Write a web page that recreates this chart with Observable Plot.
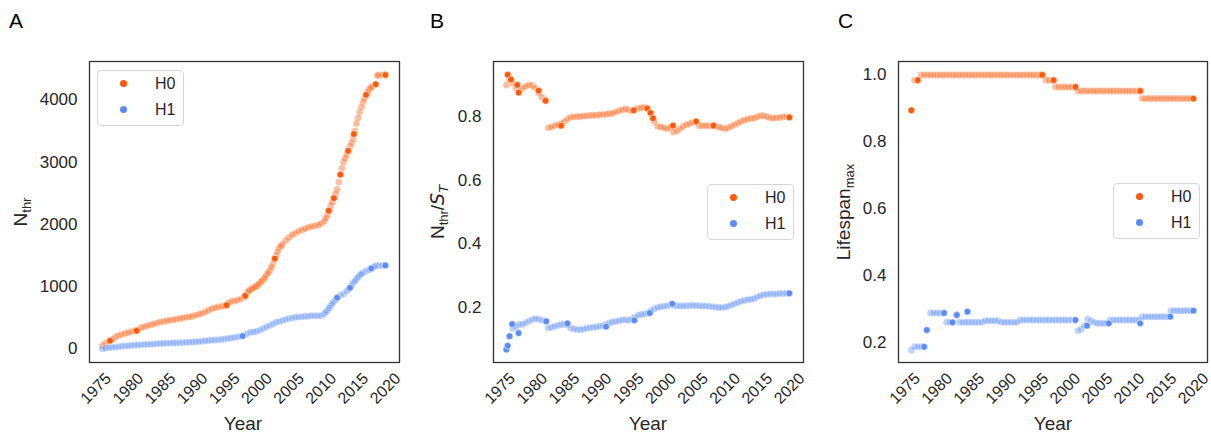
<!DOCTYPE html>
<html><head><meta charset="utf-8">
<script src="https://cdn.jsdelivr.net/npm/d3@7"></script>
<script src="https://cdn.jsdelivr.net/npm/@observablehq/plot@0.6"></script>
<style>
body{margin:0;background:#fff;font-family:"Liberation Sans",Arial,sans-serif;color:#262626}
#root{position:relative;width:1211px;height:434px;overflow:hidden;background:#fff}
.panel{position:absolute;top:0}
.letter{position:absolute;font-size:21px;line-height:21px;top:10px;color:#000}
.ylab{position:absolute;font-size:19px;line-height:19px;white-space:nowrap;transform:translate(-50%,-50%) rotate(-90deg)}
.ylab sub{font-size:13px;vertical-align:-4px;line-height:0}
.xlab{position:absolute;font-size:19px;line-height:19px;top:414px;transform:translateX(-50%)}
.legend{position:absolute;box-sizing:border-box;width:87px;height:56px;border:1px solid #d6d6d6;border-radius:4px;background:rgba(255,255,255,0.85)}
.legend .mk{position:absolute;width:7px;height:7px;border-radius:50%;left:22px}
.legend .lb{position:absolute;left:57px;font-size:16px;line-height:16px}
</style></head>
<body><div id="root"></div>
<script>
// ---- data ----
const years = [1976,1976.5,1977,1977.5,1978,1978.5,1979,1979.5,1980,1980.5,
1981,1981.5,1982,1982.5,1983,1983.5,1984,1984.5,1985,1985.5,
1986,1986.5,1987,1987.5,1988,1988.5,1989,1989.5,1990,1990.5,
1991,1991.5,1992,1992.5,1993,1993.5,1994,1994.5,1995,1995.5,
1996,1996.5,1997,1997.5,1998,1998.5,1999,1999.5,2000,2000.5,
2001,2001.5,2002,2002.5,2003,2003.5,2004,2004.5,2005,2005.5,
2006,2006.5,2007,2007.5,2008,2008.5,2009,2009.5,2010,2010.5,
2011,2011.5,2012,2012.5,2013,2013.5,2014,2014.5,2015,2015.5,
2016,2016.5,2017,2017.5,2018,2018.5,2019,2019.5,2020];
const seriesNames = ["H0","H1"];
const xTicks = [1975,1980,1985,1990,1995,2000,2005,2010,2015,2020];

// Panel A: N_thr
const nThrH0 = [50,90,120,150,190,215,230,245,260,275,
285,300,340,355,370,385,400,415,430,440,
450,460,465,475,485,495,505,515,525,540,
555,570,590,620,645,660,670,680,690,730,
760,770,780,800,830,900,950,980,1010,1060,
1110,1180,1260,1360,1500,1620,1680,1740,1790,1830,
1860,1890,1910,1930,1950,1965,1975,1990,2010,2050,
2150,2300,2420,2560,2800,3000,3120,3250,3380,3620,
3800,3960,4080,4170,4220,4250,4400,4400,4400];
const nThrH1 = [0,10,20,25,30,35,40,45,50,55,
60,62,65,68,72,75,78,80,85,88,
90,92,94,96,98,100,102,105,108,112,
118,122,128,132,136,140,145,150,158,165,
172,180,190,200,215,245,265,270,280,300,
325,350,375,400,425,440,455,470,485,495,
505,510,515,520,525,530,530,530,530,560,
620,690,760,820,860,880,930,980,1060,1120,
1180,1220,1250,1270,1300,1340,1340,1340,1340];
// extra in-between observations where the curves rise fast
const nThrH0Extra = [[1998.25,860],[1998.75,930],[1999.25,965],[1999.75,995],[2000.25,1035],[2000.75,1085],[2001.25,1140],[2001.75,1220],[2002.25,1310],[2002.75,1430],[2003.25,1560],[2003.75,1650],[2010.75,2100],[2011.25,2220],[2011.75,2360],[2012.25,2490],[2012.75,2680],[2013.25,2900],[2013.75,3060],[2014.25,3180],[2014.75,3310],[2015.25,3500],[2015.75,3710],[2016.25,3880],[2016.75,4020],[2017.25,4130],[2017.75,4200],[2018.75,4390]];
const nThrH1Extra = [[2010.75,590],[2011.25,655],[2011.75,725],[2012.25,790],[2014.25,955],[2014.75,1020],[2015.25,1090],[2015.75,1150],[2016.25,1200],[2018.25,1320]];
const nThrH0Solid = [[1977.2,130],[1981.3,290],[1995.3,700],[1998.2,850],[2002.8,1450],[2011.2,2220],[2012.0,2420],[2013.0,2800],[2014.2,3180],[2015.1,3450],[2017.0,4080],[2018.5,4250],[2020,4400]];
const nThrH1Solid = [[1997.8,205],[2012.5,820],[2014.5,980],[2017.8,1290],[2020,1340]];
const yTicksA = [0,1000,2000,3000,4000];

// Panel B: N_thr / S_T
const ratioH0 = [0.90,0.915,0.905,0.89,0.88,0.89,0.895,0.90,0.898,0.89,
0.875,0.862,0.853,0.765,0.768,0.772,0.775,0.778,0.785,0.793,
0.798,0.80,0.80,0.801,0.802,0.803,0.804,0.805,0.805,0.806,
0.807,0.808,0.81,0.81,0.815,0.819,0.822,0.824,0.822,0.818,
0.823,0.827,0.828,0.83,0.825,0.81,0.785,0.77,0.768,0.765,
0.762,0.768,0.752,0.755,0.762,0.77,0.775,0.778,0.782,0.785,
0.772,0.772,0.772,0.772,0.772,0.772,0.767,0.765,0.762,0.765,
0.77,0.775,0.78,0.785,0.79,0.792,0.795,0.795,0.80,0.803,
0.803,0.80,0.797,0.795,0.797,0.797,0.80,0.80,0.798];
const ratioH1 = [0.072,0.11,0.135,0.14,0.148,0.147,0.152,0.158,0.162,0.165,
0.164,0.16,0.158,0.136,0.138,0.141,0.144,0.147,0.148,0.145,
0.136,0.133,0.131,0.13,0.133,0.135,0.137,0.138,0.139,0.141,
0.143,0.147,0.152,0.155,0.157,0.159,0.161,0.162,0.16,0.163,
0.17,0.176,0.178,0.18,0.183,0.19,0.196,0.2,0.203,0.204,
0.206,0.208,0.207,0.206,0.205,0.205,0.206,0.206,0.207,0.206,
0.206,0.205,0.205,0.204,0.203,0.202,0.2,0.2,0.201,0.204,
0.208,0.212,0.216,0.22,0.222,0.225,0.226,0.228,0.233,0.237,
0.24,0.242,0.243,0.243,0.243,0.244,0.244,0.245,0.245];
const ratioH0Solid = [[1976.2,0.932],[1976.7,0.917],[1977.7,0.90],[1977.9,0.876],[1981.0,0.882],[1982.1,0.85],[1984.5,0.772],[1995.8,0.82],[1997.9,0.826],[1998.4,0.812],[1998.8,0.795],[2001.9,0.772],[2005.5,0.785],[2008.2,0.772],[2020,0.798]];
const ratioH1Solid = [[1976.0,0.068],[1976.2,0.08],[1976.5,0.11],[1976.9,0.148],[1977.9,0.12],[1982.2,0.157],[1985.5,0.15],[1991.5,0.14],[1995.9,0.16],[1998.3,0.183],[2001.8,0.212],[2020,0.245]];
const yTicksB = [0.2,0.4,0.6,0.8];

// Panel C: Lifespan_max
const lifeH0 = [0.895,0.984,0.984,1,1,1,1,1,1,1,
1,1,1,1,1,1,1,1,1,1,
1,1,1,1,1,1,1,1,1,1,
1,1,1,1,1,1,1,1,1,1,
1,1,0.984,0.984,0.984,0.964,0.964,0.964,0.964,0.964,
0.964,0.964,0.952,0.952,0.952,0.952,0.952,0.952,0.952,0.952,
0.952,0.952,0.952,0.952,0.952,0.952,0.952,0.952,0.952,0.952,
0.952,0.952,0.929,0.929,0.929,0.929,0.929,0.929,0.929,0.929,
0.929,0.929,0.929,0.929,0.929,0.929,0.929,0.929,0.929];
const lifeH1 = [0.177,0.187,0.187,0.187,0.187,0.237,0.288,0.288,0.288,0.288,
0.288,0.26,0.26,0.26,0.282,0.26,0.26,0.26,0.26,0.26,
0.26,0.26,0.26,0.265,0.265,0.265,0.265,0.265,0.26,0.26,
0.26,0.26,0.26,0.26,0.267,0.267,0.267,0.267,0.267,0.267,
0.267,0.267,0.267,0.267,0.267,0.267,0.267,0.267,0.267,0.267,
0.267,0.267,0.235,0.24,0.25,0.27,0.265,0.26,0.257,0.257,
0.257,0.257,0.267,0.267,0.267,0.267,0.267,0.267,0.267,0.267,
0.267,0.267,0.277,0.277,0.277,0.277,0.277,0.277,0.277,0.277,
0.277,0.295,0.295,0.295,0.295,0.295,0.295,0.295,0.295];
const lifeH0Solid = [[1976.0,0.894],[1977.0,0.984],[1996.4,1.0],[1998.2,0.984],[2001.6,0.964],[2011.7,0.952],[2020,0.929]];
const lifeH1Solid = [[1978.0,0.187],[1978.4,0.237],[1981.1,0.288],[1982.4,0.26],[1983.1,0.282],[1984.75,0.292],[2001.6,0.267],[2003.4,0.25],[2006.8,0.257],[2011.7,0.257],[2016.4,0.277],[2020,0.295]];
const yTicksC = [0.2,0.4,0.6,0.8,1.0];

const colors = {H0:"#ff5a0a", H1:"#5b8cf6"};

// ---- drawing ----
const root = document.getElementById("root");
const FONT = '"Liberation Sans", Arial, sans-serif';

function toRows(vals, name){ return vals.map((v,i)=>({year:years[i], value:v, series:name})); }
function pairRows(pairs, name){ return pairs.map(([y,v])=>({year:y, value:v, series:name})); }

function makePanel(cfg){
  const light = [...toRows(cfg.h0,"H0"), ...pairRows(cfg.e0 || [],"H0"), ...toRows(cfg.h1,"H1"), ...pairRows(cfg.e1 || [],"H1")];
  const solid = [...pairRows(cfg.s0,"H0"), ...pairRows(cfg.s1,"H1")];
  const svg = Plot.plot({
    width: cfg.width, height: 434,
    marginLeft: 89, marginRight: cfg.marginRight, marginTop: 61, marginBottom: 72,
    style: {fontFamily: FONT, fontSize: "16.5px", color: "#262626", background: "transparent", overflow: "visible"},
    x: {domain: [1974.0, 2022.2]},
    y: {domain: cfg.ydomain},
    color: {domain: seriesNames, range: [colors.H0, colors.H1]},
    marks: [
      Plot.axisX({ticks: xTicks, tickSize: 0, tickRotate: -45, tickPadding: 26, textAnchor: "middle", lineAnchor: "middle", tickFormat: d => String(d), label: null, fontSize: 16}),
      Plot.axisY({ticks: cfg.yticks, tickSize: 0, tickPadding: 12, tickFormat: cfg.yfmt, label: null, fontSize: 17}),
      Plot.dot(light, {x: "year", y: "value", fill: "series", r: 3.5, stroke: "white", strokeWidth: 0.6, fillOpacity: 0.4, strokeOpacity: 0.5}),
      Plot.dot(solid, {x: "year", y: "value", fill: "series", r: 3.4, stroke: "white", strokeWidth: 0.6}),
      Plot.frame({stroke: "#333", strokeWidth: 1.3})
    ]
  });
  svg.classList.add("panel");
  svg.style.left = cfg.left + "px";
  root.appendChild(svg);
}

makePanel({left: 0, width: 405, marginRight: 6, ydomain: [-220, 4616], yticks: yTicksA, yfmt: d3.format("d"), h0: nThrH0, h1: nThrH1, e0: nThrH0Extra, e1: nThrH1Extra, s0: nThrH0Solid, s1: nThrH1Solid});
makePanel({left: 404, width: 405, marginRight: 6, ydomain: [0.0274, 0.9736], yticks: yTicksB, yfmt: d3.format(".1f"), h0: ratioH0, h1: ratioH1, s0: ratioH0Solid, s1: ratioH1Solid});
makePanel({left: 809, width: 402, marginRight: 4, ydomain: [0.14, 1.04], yticks: yTicksC, yfmt: d3.format(".1f"), h0: lifeH0, h1: lifeH1, s0: lifeH0Solid, s1: lifeH1Solid});

// labels
function addDiv(cls, html, style){ const d=document.createElement("div"); d.className=cls; d.innerHTML=html; Object.assign(d.style, style); root.appendChild(d); return d; }
addDiv("letter","A",{left:"9px"});
addDiv("letter","B",{left:"430px"});
addDiv("letter","C",{left:"838px"});
addDiv("ylab","N<sub>thr</sub>",{left:"20px",top:"212px"});
addDiv("ylab","N<sub>thr</sub>/<i style=\"font-family:'DejaVu Sans'\">S<sub>T</sub></i>",{left:"437px",top:"212px"});
addDiv("ylab","Lifespan<sub>max</sub>",{left:"843px",top:"212px"});
addDiv("xlab","Year",{left:"243px"});
addDiv("xlab","Year",{left:"648px"});
addDiv("xlab","Year",{left:"1053px"});

function addLegend(left, top){
  const lg = addDiv("legend","",{left:left+"px", top:top+"px"});
  seriesNames.forEach((name,i)=>{
    const mk=document.createElement("div"); mk.className="mk";
    mk.style.background=colors[name]; mk.style.top=(9+26*i)+"px"; lg.appendChild(mk);
    const lb=document.createElement("div"); lb.className="lb"; lb.textContent=name;
    lb.style.top=(5+26*i)+"px"; lg.appendChild(lb);
  });
}
addLegend(97,70);
addLegend(707,184);
addLegend(1113,183);
</script></body></html>
